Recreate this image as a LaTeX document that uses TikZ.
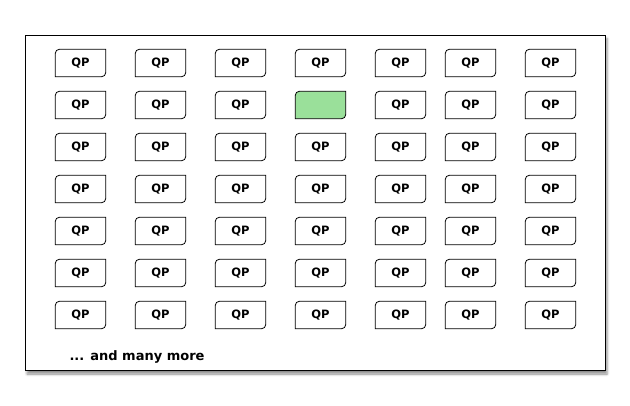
\documentclass[tikz,border=0pt]{standalone}
\usepackage{fontspec}
\setmainfont{DejaVu Sans}
\usepackage{xcolor}
\usepackage{tikz}
\usetikzlibrary{positioning,shadows.blur}
\definecolor{qpgreen}{RGB}{154,224,154}
\tikzset{
    qpbox/.style={minimum width=50pt, minimum height=27pt, inner sep=0pt, font=\bfseries\fontsize{11.5}{13}\selectfont},
    qpedge/.style={line width=0.8pt}
}

\begin{document}
\begin{tikzpicture}[x=1pt,y=-1pt]
    \useasboundingbox (0,0) rectangle (630,406);
    \draw[line width=1pt, fill=white, blur shadow={shadow xshift=1.5pt, shadow yshift=-3pt, shadow blur radius=2.5pt, shadow opacity=45}] (25.5,35.5) rectangle (605.5,371);
    \foreach \c/\x in {1/80.5, 2/160.5, 3/240.5, 4/320.5, 5/400.5, 6/470.5, 7/550.5} {
        \foreach \r in {1,...,7} {
            \pgfmathsetmacro{\y}{21+42*\r}
            \ifnum\c\r=42
                \node[qpbox] (qp-\c-\r) at (\x,\y) {};
                \fill[qpgreen] (qp-\c-\r.north east) -- ([xshift=4pt]qp-\c-\r.north west) arc[start angle=90, end angle=180, radius=4pt] -- (qp-\c-\r.south west) -- ([xshift=-4pt]qp-\c-\r.south east) arc[start angle=270, end angle=360, radius=4pt] -- cycle;
            \else
                \node[qpbox] (qp-\c-\r) at (\x,\y) {QP};
            \fi
            \draw[qpedge] (qp-\c-\r.north east) -- ([xshift=4pt]qp-\c-\r.north west) arc[start angle=90, end angle=180, radius=4pt] -- (qp-\c-\r.south west) -- ([xshift=-4pt]qp-\c-\r.south east) arc[start angle=270, end angle=360, radius=4pt] -- cycle;
        }
    }
    \node[anchor=west, font=\bfseries\fontsize{13}{15}\selectfont] (more) at (66,357) {... and many more};
\end{tikzpicture}
\end{document}
